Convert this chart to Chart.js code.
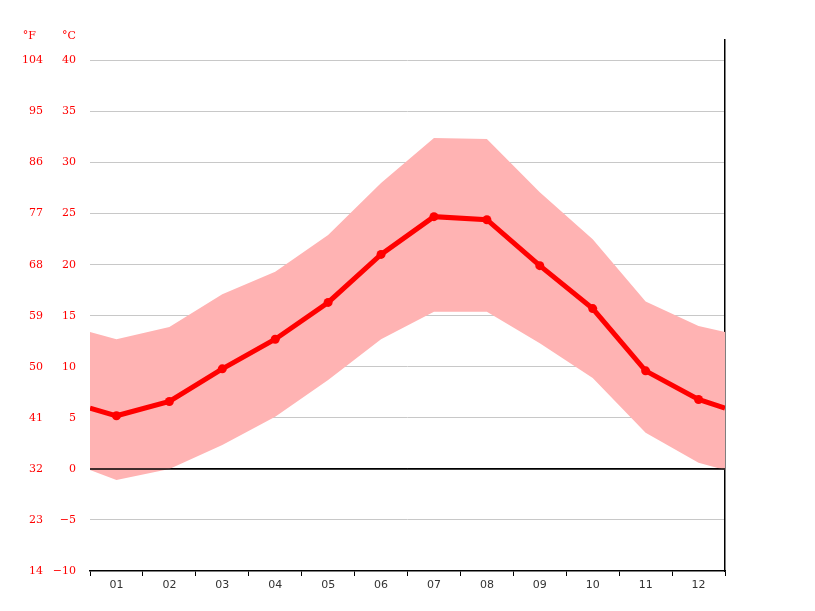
<!DOCTYPE html>
<html>
<head>
<meta charset="utf-8">
<script src="https://cdn.jsdelivr.net/npm/chart.js"></script>
<style>
    body { margin: 0; background: #fff; }
</style>
</head>
<body>
<canvas id="climateChart" width="815" height="611"></canvas>
<script>
// Monthly climate values (°C)
const months = ['01', '02', '03', '04', '05', '06', '07', '08', '09', '10', '11', '12'];
const meanTemp = [5.2, 6.6, 9.8, 12.7, 16.3, 21.0, 24.7, 24.4, 19.9, 15.7, 9.6, 6.8];
const maxTemp = [12.7, 13.9, 17.1, 19.3, 22.9, 28.0, 32.4, 32.3, 27.1, 22.5, 16.4, 14.0];
const minTemp = [-1.1, 0.0, 2.35, 5.1, 8.7, 12.7, 15.4, 15.4, 12.3, 8.9, 3.55, 0.6];

// values where the curves meet the left/right plot edges
const edgeMean = 5.95;
const edgeMax = 13.4;
const edgeMin = -0.1;

const celsiusTicks = [-10, -5, 0, 5, 10, 15, 20, 25, 30, 35, 40];
const fahrenheitTicks = [14, 23, 32, 41, 50, 59, 68, 77, 86, 95, 104];

const labelFont = { family: '"DejaVu Serif"', size: 11 };

function withEdges(values, edge) {
    const pts = values.map((v, i) => ({ x: i + 1, y: v }));
    return [{ x: 0.5, y: edge }, ...pts, { x: values.length + 0.5, y: edge }];
}

const unitHeaders = {
    id: 'unitHeaders',
    afterDraw(chart) {
        const { ctx, scales } = chart;
        ctx.save();
        ctx.fillStyle = 'red';
        ctx.font = '11px "DejaVu Serif"';
        ctx.textAlign = 'right';
        ctx.textBaseline = 'middle';
        ctx.fillText('°F', scales.yF.right - 14, 36);
        ctx.fillText('°C', scales.y.right - 14, 36);
        ctx.restore();
    }
};

const lastIdx = months.length + 1;

new Chart(document.getElementById('climateChart'), {
    type: 'line',
    data: {
        datasets: [
            {
                // zero line on top of the band
                data: [{ x: 0.5, y: 0 }, { x: 12.5, y: 0 }],
                borderColor: '#000',
                borderWidth: 1.5,
                pointRadius: 0,
                order: 0
            },
            {
                label: 'Mean',
                data: withEdges(meanTemp, edgeMean),
                borderColor: 'red',
                borderWidth: 5,
                pointRadius: ctx => (ctx.dataIndex === 0 || ctx.dataIndex === lastIdx) ? 0 : 4.5,
                pointBackgroundColor: 'red',
                pointBorderWidth: 0,
                clip: 0,
                order: 1
            },
            {
                label: 'Max',
                data: withEdges(maxTemp, edgeMax),
                borderColor: 'transparent',
                borderWidth: 0,
                backgroundColor: '#ffb3b3',
                pointRadius: 0,
                fill: '+1',
                order: 2
            },
            {
                label: 'Min',
                data: withEdges(minTemp, edgeMin),
                borderColor: 'transparent',
                borderWidth: 0,
                pointRadius: 0,
                fill: false,
                order: 3
            }
        ]
    },
    options: {
        responsive: false,
        animation: false,
        layout: { padding: { top: 40, right: 90, left: 0, bottom: 0 } },
        plugins: {
            legend: { display: false },
            tooltip: { enabled: false }
        },
        scales: {
            x: {
                type: 'linear',
                min: 0.5,
                max: 12.5,
                afterBuildTicks: s => { s.ticks = months.map((m, i) => ({ value: i + 1 })); },
                afterFit: s => { s.height = 40; },
                ticks: {
                    callback: (v, i) => months[i],
                    color: '#333',
                    font: { family: '"DejaVu Sans"', size: 11 },
                    padding: 3,
                    autoSkip: false,
                    maxRotation: 0
                },
                grid: {
                    offset: true,
                    drawOnChartArea: false,
                    drawTicks: true,
                    tickLength: 5,
                    color: '#000'
                },
                border: { color: '#000', width: 1.5 }
            },
            y: {
                position: 'left',
                weight: 0,
                min: -10,
                max: 42,
                afterBuildTicks: s => { s.ticks = celsiusTicks.map(v => ({ value: v })); },
                afterFit: s => { s.width = 40; },
                ticks: {
                    callback: v => String(v).replace('-', '\u2212'),
                    color: 'red',
                    font: labelFont,
                    padding: 14
                },
                grid: {
                    drawTicks: false,
                    color: c => c.tick.value === -10 ? 'transparent' : (c.tick.value === 0 ? '#000' : '#c8c8c8'),
                    lineWidth: 1
                },
                border: { display: false }
            },
            yF: {
                position: 'left',
                weight: 1,
                min: -10,
                max: 42,
                afterBuildTicks: s => { s.ticks = celsiusTicks.map(v => ({ value: v })); },
                afterFit: s => { s.width = 50; },
                ticks: {
                    callback: (v, i) => fahrenheitTicks[i],
                    color: 'red',
                    font: labelFont,
                    padding: 7
                },
                grid: { display: false, drawTicks: false },
                border: { display: false }
            },
            yR: {
                position: 'right',
                min: -10,
                max: 42,
                afterFit: s => { s.width = 0; },
                ticks: { display: false },
                grid: { drawOnChartArea: false, drawTicks: false },
                border: { display: true, color: '#000', width: 1.5 }
            }
        }
    },
    plugins: [unitHeaders]
});
</script>
</body>
</html>
